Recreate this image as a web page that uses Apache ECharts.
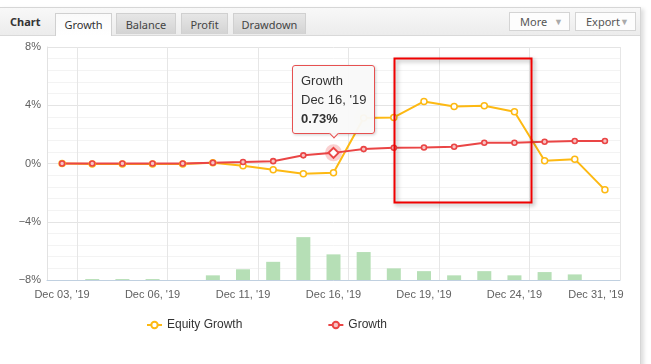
<!DOCTYPE html>
<html>
<head>
<meta charset="utf-8">
<script src="https://cdn.jsdelivr.net/npm/echarts@6/dist/echarts.min.js"></script>
<style>
  html, body { margin: 0; padding: 0; background: #fff; }
  body { width: 651px; height: 364px; position: relative; overflow: hidden; font-family: "Noto Sans", "Liberation Sans", sans-serif; }
  #frame { position: absolute; left: -1px; top: 7px; width: 640px; height: 370px; border: 1px solid #d6d6d6;
    box-shadow: 3px 2px 4px rgba(0,0,0,0.13); background: #fff; }
  #head { position: absolute; left: 0; top: 0; width: 640px; height: 27px; border-bottom: 1px solid #d9d9d9;
    background: linear-gradient(#f8f8f8, #ececec); }
  #head .title { position: absolute; left: 10px; top: 6px; font-weight: bold; font-size: 11px; color: #333; }
  .tab { position: absolute; top: 5px; height: 21px; line-height: 21px; text-align: center; font-size: 11px; color: #444;
    border: 1px solid #d0d0d0; border-bottom: none; background: linear-gradient(#e6e6e6, #d3d3d3); box-sizing: border-box; }
  .tab.on { background: linear-gradient(#fafafa, #ffffff); height: 23px; color: #333; }
  .btn { position: absolute; top: 4px; height: 19px; line-height: 18px; font-size: 11px; color: #555; background: #fdfdfd;
    border: 1px solid #d4d4d4; box-sizing: border-box; padding-left: 10px; }
  .btn span { position: absolute; right: 6px; top: 0; color: #aaa; font-size: 9px; }
  #chart { position: absolute; left: 0; top: 0; width: 651px; height: 364px; }
</style>
</head>
<body>
<div id="frame">
  <div id="head">
    <div class="title">Chart</div>
    <div class="tab on" style="left:55px;width:57px;">Growth</div>
    <div class="tab" style="left:116px;width:60px;">Balance</div>
    <div class="tab" style="left:181px;width:47px;">Profit</div>
    <div class="tab" style="left:233px;width:73px;">Drawdown</div>
    <div class="btn" style="left:509px;width:61px;">More<span>&#9660;</span></div>
    <div class="btn" style="left:575px;width:61px;">Export<span>&#9660;</span></div>
  </div>
</div>
<div id="chart"></div>
<script>
// trading days shown on the category axis
var categories = ["Dec 03, '19", "Dec 04, '19", "Dec 05, '19", "Dec 06, '19", "Dec 09, '19", "Dec 10, '19",
  "Dec 11, '19", "Dec 12, '19", "Dec 13, '19", "Dec 16, '19", "Dec 17, '19", "Dec 18, '19", "Dec 19, '19",
  "Dec 20, '19", "Dec 23, '19", "Dec 24, '19", "Dec 27, '19", "Dec 30, '19", "Dec 31, '19"];
var equityGrowth = [0, -0.04, -0.04, -0.04, -0.04, 0.05, -0.16, -0.43, -0.7, -0.63, 3.12, 3.16, 4.26, 3.91, 3.96, 3.55, 0.19, 0.3, -1.81];
var growth = [0, 0, 0, 0, 0, 0.05, 0.1, 0.16, 0.56, 0.73, 0.99, 1.08, 1.1, 1.15, 1.42, 1.42, 1.49, 1.54, 1.54];
var activity = [0, 0.2, 0.2, 0.2, 0, 1, 2.3, 3.9, 9.2, 5.5, 6, 2.5, 1.9, 1, 1.9, 1, 1.7, 1.2, 0];
var yTicks = [-8, -4, 0, 4, 8];
var hoverIndex = 9; // point under the tooltip

var axisFont = 'Liberation Sans, Arial, sans-serif';
var chart = echarts.init(document.getElementById('chart'));

// hovered point gets the pink halo as its own symbol
var growthData = growth.map(function (v, i) {
  if (i !== hoverIndex) return v;
  return { value: v, symbolSize: 17, itemStyle: { color: 'rgba(234,69,69,0.25)', borderWidth: 0 } };
});

var option = {
  animation: false,
  grid: { left: 47, right: 31, top: 47, bottom: 84 },
  tooltip: {
    trigger: 'item',
    triggerOn: 'none',
    alwaysShowContent: true,
    position: 'top',
    backgroundColor: 'rgba(249,249,249,0.96)',
    borderColor: '#e65050',
    borderWidth: 1,
    padding: [5, 8],
    extraCssText: 'border-radius:3px;box-shadow:1px 1px 3px rgba(0,0,0,0.18);',
    textStyle: { fontFamily: axisFont, fontSize: 13, color: '#333' },
    formatter: function (p) {
      var v = typeof p.value === 'number' ? p.value : p.data.value;
      return '<div style="line-height:19px">' + p.seriesName + '<br>' + p.name + '<br><b>' +
        v.toFixed(2) + '%</b></div>';
    }
  },
  legend: {
    left: 141, top: 314,
    itemWidth: 15, itemHeight: 8, itemGap: 85,
    textStyle: { fontFamily: axisFont, fontSize: 12, color: '#333' },
    data: ['Equity Growth', 'Growth']
  },
  xAxis: {
    type: 'category',
    data: categories,
    boundaryGap: true,
    axisLine: { onZero: false, lineStyle: { color: '#c0d0e0' } },
    axisTick: { show: false },
    axisLabel: {
      interval: 2, margin: 9, color: '#606060', fontFamily: axisFont, fontSize: 11,
      formatter: function (v, i) { return i === categories.length - 1 ? '{last|' + v + '}' : v; },
      rich: { last: { padding: [0, 18, 0, 0], color: '#606060', fontFamily: axisFont, fontSize: 11 } }
    },
    splitLine: {
      show: true,
      interval: function (i) { return i % 3 === 1; },
      lineStyle: { color: '#e6e6e6' }
    }
  },
  yAxis: [{
    type: 'value',
    min: yTicks[0], max: yTicks[yTicks.length - 1], interval: 4,
    axisLine: { show: true, lineStyle: { color: '#e2e2e2' } },
    axisTick: { show: false },
    axisLabel: {
      margin: 6, color: '#606060', fontFamily: axisFont, fontSize: 11,
      formatter: function (v) { return (v < 0 ? '\u2212' + (-v) : v) + '%'; }
    },
    splitLine: { lineStyle: { color: '#e4e4e4' } },
    minorSplitLine: { show: true, lineStyle: { color: '#f3f3f3' } },
    minorTick: { show: false, splitNumber: 5 }
  }, {
    type: 'value', min: 0, max: 50, show: false, splitLine: { show: false }
  }],
  series: [{
    name: 'Activity',
    type: 'bar',
    yAxisIndex: 1,
    barWidth: 14,
    data: activity,
    itemStyle: { color: '#b6dfb6' },
    tooltip: { show: false },
    silent: true
  }, {
    name: 'Equity Growth',
    type: 'line',
    data: equityGrowth,
    symbol: 'circle',
    symbolSize: 6,
    lineStyle: { color: '#fdb913', width: 2 },
    itemStyle: { color: '#fff', borderColor: '#fdb913', borderWidth: 1.5 },
    markPoint: {
      silent: true,
      label: { show: false },
      data: [{ coord: [10, equityGrowth[10]], symbol: 'circle', symbolSize: 20,
        itemStyle: { color: 'rgba(253,185,19,0.15)', borderWidth: 0 } }]
    }
  }, {
    name: 'Growth',
    type: 'line',
    data: growthData,
    symbol: 'circle',
    symbolSize: 5,
    lineStyle: { color: '#ea4545', width: 2 },
    itemStyle: { color: '#f7c4c4', borderColor: '#ea4545', borderWidth: 1.6 },
    markPoint: {
      silent: true,
      label: { show: false },
      data: [{ coord: [hoverIndex, growth[hoverIndex]], symbol: 'diamond', symbolSize: [10, 10],
        itemStyle: { color: '#fff', borderColor: '#ea4545', borderWidth: 2 } }]
    }
  }],
  graphic: [{
    type: 'rect',
    left: 392, top: 56,
    shape: { width: 137, height: 144 },
    style: { fill: 'none', stroke: '#f00000', lineWidth: 2,
      shadowBlur: 4, shadowOffsetX: 2, shadowOffsetY: 2, shadowColor: 'rgba(0,0,0,0.35)' },
    silent: true,
    z: 100
  }]
};
chart.setOption(option);
chart.dispatchAction({ type: 'showTip', seriesIndex: 2, dataIndex: hoverIndex });
</script>
</body>
</html>
